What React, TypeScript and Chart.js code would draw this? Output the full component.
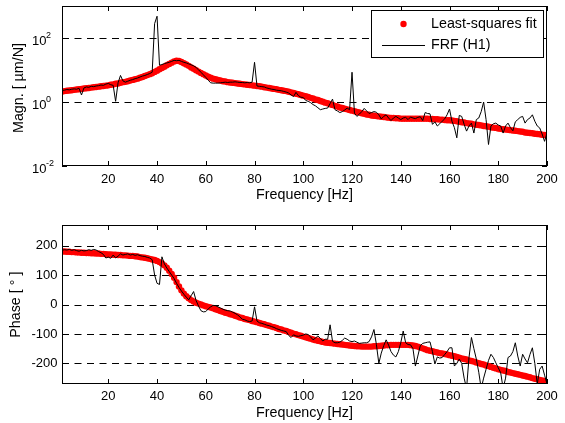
import React, { useEffect, useRef } from 'react';
import { Chart, registerables } from 'chart.js';

Chart.register(...registerables);

// Frequency grid [Hz]
const freq: number[] = Array.from({ length: 200 }, (_, i) => i + 1);

// Least-squares fit magnitude [um/N], f = 1..200 Hz
const fitMag: number[] = [
  2.14, 2.19, 2.24, 2.29, 2.34, 2.40, 2.45, 2.51, 2.57, 2.63,
  2.69, 2.75, 2.82, 2.88, 2.95, 3.02, 3.09, 3.16, 3.24, 3.31,
  3.47, 3.55, 3.72, 3.80, 3.98, 4.17, 4.27, 4.47, 4.68, 4.90,
  5.13, 5.37, 5.75, 6.03, 6.46, 6.92, 7.41, 7.94, 8.71, 9.55,
  10.5, 11.5, 12.6, 14.1, 15.5, 17.0, 18.6, 19.5, 19.1, 17.8,
  16.2, 14.8, 13.5, 12.0, 11.0, 9.77, 8.91, 8.13, 7.41, 6.76,
  6.17, 5.75, 5.37, 5.13, 4.90, 4.68, 4.47, 4.37, 4.17, 4.07,
  3.98, 3.89, 3.80, 3.72, 3.63, 3.55, 3.47, 3.39, 3.31, 3.24,
  3.16, 3.09, 3.02, 2.88, 2.82, 2.75, 2.63, 2.57, 2.51, 2.40,
  2.34, 2.24, 2.19, 2.09, 2.00, 1.91, 1.82, 1.74, 1.66, 1.58,
  1.51, 1.45, 1.35, 1.29, 1.20, 1.15, 1.07, 1.02, 0.955, 0.912,
  0.851, 0.813, 0.759, 0.724, 0.676, 0.646, 0.617, 0.589, 0.562, 0.537,
  0.513, 0.490, 0.468, 0.447, 0.427, 0.407, 0.398, 0.380, 0.372, 0.363,
  0.355, 0.347, 0.339, 0.331, 0.324, 0.316, 0.316, 0.309, 0.309, 0.302,
  0.302, 0.302, 0.302, 0.302, 0.302, 0.302, 0.302, 0.302, 0.302, 0.302,
  0.302, 0.295, 0.295, 0.288, 0.288, 0.282, 0.282, 0.275, 0.269, 0.269,
  0.263, 0.257, 0.251, 0.240, 0.234, 0.229, 0.219, 0.214, 0.209, 0.200,
  0.195, 0.191, 0.186, 0.178, 0.174, 0.170, 0.162, 0.158, 0.155, 0.148,
  0.145, 0.141, 0.138, 0.135, 0.132, 0.129, 0.126, 0.123, 0.120, 0.117,
  0.112, 0.110, 0.107, 0.105, 0.102, 0.100, 0.098, 0.095, 0.093, 0.091,
];

// Measured FRF (H1) magnitude [um/N]
const frfMag: number[] = [
  2.29, 2.34, 2.45, 2.40, 2.51, 2.57, 2.51, 2.69, 1.66, 2.75,
  2.95, 2.88, 3.09, 3.02, 3.16, 3.24, 3.39, 3.31, 3.63, 3.80,
  3.47, 3.31, 1.05, 3.98, 6.76, 4.57, 4.17, 4.47, 4.79, 5.01,
  5.37, 5.62, 6.03, 6.46, 6.76, 7.24, 7.76, 8.51, 282, 479,
  14.1, 14.8, 15.8, 16.6, 17.4, 18.6, 20.0, 19.5, 20.0, 18.6,
  17.4, 16.6, 15.5, 14.5, 13.5, 12.0, 10.2, 8.51, 7.08, 5.89,
  4.79, 3.98, 3.89, 3.89, 3.89, 3.98, 4.07, 4.17, 4.07, 4.17,
  4.17, 4.27, 4.17, 4.07, 4.07, 3.98, 4.07, 3.98, 4.17, 17.4,
  3.16, 3.09, 3.02, 2.95, 2.75, 2.63, 2.51, 2.45, 2.34, 2.29,
  2.24, 2.14, 2.04, 1.91, 1.66, 1.48, 2.00, 1.58, 1.41, 1.38,
  1.12, 1.05, 0.955, 0.832, 0.759, 0.661, 0.575, 0.603, 0.631, 0.646,
  0.891, 1.23, 0.575, 0.525, 0.468, 0.501, 0.562, 0.646, 0.575, 8.51,
  0.447, 0.355, 0.417, 0.501, 0.631, 0.525, 0.437, 0.468, 0.501, 0.479,
  0.398, 0.295, 0.355, 0.398, 0.316, 0.263, 0.316, 0.355, 0.316, 0.282,
  0.316, 0.331, 0.282, 0.339, 0.316, 0.302, 0.331, 0.347, 0.263, 0.468,
  0.437, 0.427, 0.200, 0.240, 0.178, 0.209, 0.251, 0.295, 0.398, 0.603,
  0.251, 0.158, 0.076, 0.380, 0.355, 0.200, 0.123, 0.178, 0.219, 0.107,
  0.282, 0.316, 0.501, 1.0, 0.282, 0.047, 0.178, 0.209, 0.219, 0.191,
  0.178, 0.107, 0.178, 0.219, 0.158, 0.126, 0.240, 0.282, 0.331, 0.355,
  0.219, 0.282, 0.316, 0.398, 0.251, 0.178, 0.155, 0.100, 0.059, 0.107,
];

// Least-squares fit phase [deg]
const fitPhase: number[] = [
  180, 180, 179, 179, 178, 178, 177, 177, 176, 176,
  175, 175, 174, 174, 173, 173, 172, 172, 171, 170,
  170, 169, 169, 168, 168, 167, 167, 166, 165, 165,
  164, 163, 161, 160, 159, 157, 155, 153, 151, 148,
  144, 139, 133, 125, 115, 104, 91, 76, 61, 48,
  37, 28, 21, 15, 10, 6, 3, 0, -3, -6,
  -8, -10, -13, -16, -19, -22, -25, -28, -30, -33,
  -35, -38, -41, -44, -46, -49, -51, -53, -56, -58,
  -60, -63, -65, -67, -70, -72, -75, -77, -80, -83,
  -85, -88, -90, -93, -96, -99, -101, -104, -106, -109,
  -111, -114, -116, -119, -121, -123, -125, -127, -129, -130,
  -131, -132, -133, -134, -135, -136, -137, -138, -139, -140,
  -141, -142, -142, -143, -143, -143, -143, -143, -142, -142,
  -141, -140, -139, -138, -138, -137, -137, -137, -137, -137,
  -137, -137, -137, -138, -139, -141, -143, -146, -149, -152,
  -155, -157, -159, -161, -163, -165, -166, -168, -170, -172,
  -174, -176, -178, -181, -183, -185, -187, -190, -192, -194,
  -197, -199, -202, -204, -207, -209, -212, -215, -217, -220,
  -222, -224, -226, -229, -231, -233, -235, -237, -239, -241,
  -243, -245, -247, -250, -252, -254, -256, -258, -260, -263,
];

// Measured FRF (H1) phase [deg]
const frfPhase: number[] = [
  184, 186, 185, 187, 184, 186, 183, 181, 184, 182,
  183, 186, 184, 187, 185, 180, 176, 170, 158, 161,
  157, 168, 158, 164, 172, 168, 170, 172, 168, 170,
  167, 169, 166, 164, 163, 160, 158, 152, 100, 72,
  68, 162, 138, 124, 112, 100, 88, 72, 58, 46,
  35, 25, 16, 30, 44, 14, -5, -21, -25, -24,
  -15, -8, -3, -4, -8, -12, -16, -19, -21, -22,
  -26, -30, -35, -42, -50, -52, -56, -58, -56, -8,
  -56, -62, -64, -67, -70, -72, -75, -78, -82, -85,
  -88, -90, -92, -105, -112, -103, -107, -108, -106, -104,
  -100, -102, -110, -120, -114, -107, -115, -124, -118, -118,
  -69, -125, -130, -130, -128, -122, -114, -118, -124, -126,
  -124, -128, -132, -131, -130, -130, -126, -110, -85, -136,
  -200, -165, -140, -120, -138, -160, -172, -178, -160, -130,
  -90, -130, -136, -137, -150, -209, -175, -140, -132, -130,
  -128, -127, -160, -202, -178, -182, -180, -170, -160, -147,
  -147, -209, -200, -185, -200, -250, -285, -180, -112, -150,
  -185, -230, -285, -250, -220, -190, -169, -180, -198, -215,
  -232, -285, -250, -180, -175, -160, -130, -175, -209, -169,
  -185, -198, -170, -147, -200, -270, -220, -209, -240, -270,
];

const xTicks: number[] = [20, 40, 60, 80, 100, 120, 140, 160, 180, 200];
const magTicks: number[] = [0.01, 1, 100];
const magTickExp: string[] = ['-2', '0', '2'];
const phaseTicks: number[] = [-200, -100, 0, 100, 200];

const xTitle = 'Frequency [Hz]';
const magTitle = 'Magn. [ µm/N]';
const phaseTitle = 'Phase [ ° ]';
const fitLabel = 'Least-squares fit';
const frfLabel = 'FRF (H1)';

const FONT = '"Liberation Sans", Arial, Helvetica, sans-serif';
const TICK_FONT = `13px ${FONT}`;
const EXP_FONT = `9px ${FONT}`;
const LABEL_FONT = `14.3px ${FONT}`;
const W = 565;

function drawGrid(chart: any, values: number[]) {
  const { ctx, chartArea: a, scales } = chart;
  ctx.save();
  ctx.strokeStyle = '#000';
  ctx.lineWidth = 1;
  ctx.setLineDash([7, 5.5]);
  for (const v of values) {
    const py = Math.round(scales.y.getPixelForValue(v)) + 0.5;
    if (py < a.top + 2 || py > a.bottom - 2) continue;
    ctx.beginPath();
    ctx.moveTo(a.left, py);
    ctx.lineTo(a.right, py);
    ctx.stroke();
  }
  ctx.restore();
}

function drawFrame(chart: any, yValues: number[], xLabelY: number, xTitleY: number) {
  const { ctx, chartArea: a, scales } = chart;
  ctx.save();
  ctx.strokeStyle = '#000';
  ctx.lineWidth = 1;
  ctx.setLineDash([]);
  ctx.strokeRect(a.left + 0.5, a.top + 0.5, a.right - a.left - 1, a.bottom - a.top - 1);
  const tl = 5;
  ctx.beginPath();
  for (const v of xTicks) {
    const px = Math.round(scales.x.getPixelForValue(v)) + 0.5;
    ctx.moveTo(px, a.top);
    ctx.lineTo(px, a.top + tl);
    ctx.moveTo(px, a.bottom);
    ctx.lineTo(px, a.bottom - tl);
  }
  for (const v of yValues) {
    const py = Math.round(scales.y.getPixelForValue(v)) + 0.5;
    ctx.moveTo(a.left, py);
    ctx.lineTo(a.left + tl, py);
    ctx.moveTo(a.right, py);
    ctx.lineTo(a.right - tl, py);
  }
  ctx.stroke();
  ctx.fillStyle = '#000';
  ctx.font = TICK_FONT;
  ctx.textAlign = 'center';
  ctx.textBaseline = 'middle';
  for (const v of xTicks) {
    ctx.fillText(String(v), scales.x.getPixelForValue(v), xLabelY);
  }
  ctx.font = LABEL_FONT;
  ctx.fillText(xTitle, (a.left + a.right) / 2, xTitleY);
  ctx.restore();
}

function drawYTitle(ctx: CanvasRenderingContext2D, text: string, x: number, y: number) {
  ctx.save();
  ctx.translate(x, y);
  ctx.rotate(-Math.PI / 2);
  ctx.fillStyle = '#000';
  ctx.font = LABEL_FONT;
  ctx.textAlign = 'center';
  ctx.textBaseline = 'middle';
  ctx.fillText(text, 0, 0);
  ctx.restore();
}

const magPlugin = {
  id: 'magDecor',
  beforeDatasetsDraw(chart: any) {
    drawGrid(chart, magTicks);
  },
  afterDraw(chart: any) {
    const { ctx, scales } = chart;
    drawFrame(chart, magTicks, 179, 195.5);
    ctx.save();
    ctx.fillStyle = '#000';
    ctx.textAlign = 'left';
    ctx.textBaseline = 'alphabetic';
    magTicks.forEach((v, i) => {
      const py = scales.y.getPixelForValue(v);
      ctx.font = TICK_FONT;
      ctx.fillText('10', 32, py + 6.5);
      const w = ctx.measureText('10').width;
      ctx.font = EXP_FONT;
      ctx.fillText(magTickExp[i], 32 + w - 0.5, py - 0.5);
    });
    ctx.restore();
    drawYTitle(ctx, magTitle, 19.5, 88);
    // legend
    ctx.save();
    ctx.fillStyle = '#fff';
    ctx.fillRect(372, 11, 172, 46);
    ctx.strokeStyle = '#000';
    ctx.lineWidth = 1;
    ctx.strokeRect(371.5, 10.5, 172, 47);
    ctx.fillStyle = '#f00';
    ctx.beginPath();
    ctx.arc(403.5, 24, 3.2, 0, Math.PI * 2);
    ctx.fill();
    ctx.beginPath();
    ctx.moveTo(382, 45.5);
    ctx.lineTo(425, 45.5);
    ctx.strokeStyle = '#000';
    ctx.stroke();
    ctx.fillStyle = '#000';
    ctx.font = LABEL_FONT;
    ctx.textAlign = 'left';
    ctx.textBaseline = 'middle';
    ctx.fillText(fitLabel, 431, 24.5);
    ctx.fillText(frfLabel, 431, 45.5);
    ctx.restore();
  },
};

const phasePlugin = {
  id: 'phaseDecor',
  beforeDatasetsDraw(chart: any) {
    drawGrid(chart, phaseTicks);
  },
  afterDraw(chart: any) {
    const { ctx, scales } = chart;
    drawFrame(chart, phaseTicks, 186, 203);
    ctx.save();
    ctx.fillStyle = '#000';
    ctx.font = TICK_FONT;
    ctx.textAlign = 'right';
    ctx.textBaseline = 'middle';
    for (const v of phaseTicks) {
      ctx.fillText(String(v), 57.5, scales.y.getPixelForValue(v));
    }
    ctx.restore();
    drawYTitle(ctx, phaseTitle, 16, 94.7);
  },
};

function makeConfig(fit: number[], frf: number[], yScale: any, padding: any, plugin: any): any {
  return {
    type: 'line',
    data: {
      datasets: [
        {
          label: frfLabel,
          data: freq.map((f, i) => ({ x: f, y: frf[i] })),
          borderColor: '#000',
          borderWidth: 1,
          pointRadius: 0,
          fill: false,
          tension: 0,
        },
        {
          label: fitLabel,
          data: freq.map((f, i) => ({ x: f, y: fit[i] })),
          showLine: false,
          pointRadius: 3.2,
          pointBorderWidth: 0,
          pointBackgroundColor: '#f00',
          borderColor: '#f00',
          backgroundColor: '#f00',
        },
      ],
    },
    options: {
      responsive: false,
      animation: false,
      events: [],
      layout: { padding },
      scales: {
        x: { type: 'linear', min: 1, max: 200, display: false },
        y: { ...yScale, display: false },
      },
      plugins: { legend: { display: false }, tooltip: { enabled: false } },
    },
    plugins: [plugin],
  };
}

export default function App() {
  const topRef = useRef<HTMLCanvasElement>(null);
  const botRef = useRef<HTMLCanvasElement>(null);

  useEffect(() => {
    const c1 = new Chart(
      topRef.current as HTMLCanvasElement,
      makeConfig(
        fitMag,
        frfMag,
        { type: 'logarithmic', min: 0.01, max: 1000 },
        { left: 62, right: 18, top: 6, bottom: 44 },
        magPlugin,
      ),
    );
    const c2 = new Chart(
      botRef.current as HTMLCanvasElement,
      makeConfig(
        fitPhase,
        frfPhase,
        { type: 'linear', min: -270, max: 270 },
        { left: 62, right: 18, top: 15, bottom: 39 },
        phasePlugin,
      ),
    );
    return () => {
      c1.destroy();
      c2.destroy();
    };
  }, []);

  return (
    <div style={{ position: 'fixed', left: 0, top: 0, width: W, height: 423, background: '#fff' }}>
      <canvas ref={topRef} width={W} height={210} style={{ position: 'absolute', left: 0, top: 0, display: 'block' }} />
      <canvas ref={botRef} width={W} height={213} style={{ position: 'absolute', left: 0, top: 210, display: 'block' }} />
    </div>
  );
}
